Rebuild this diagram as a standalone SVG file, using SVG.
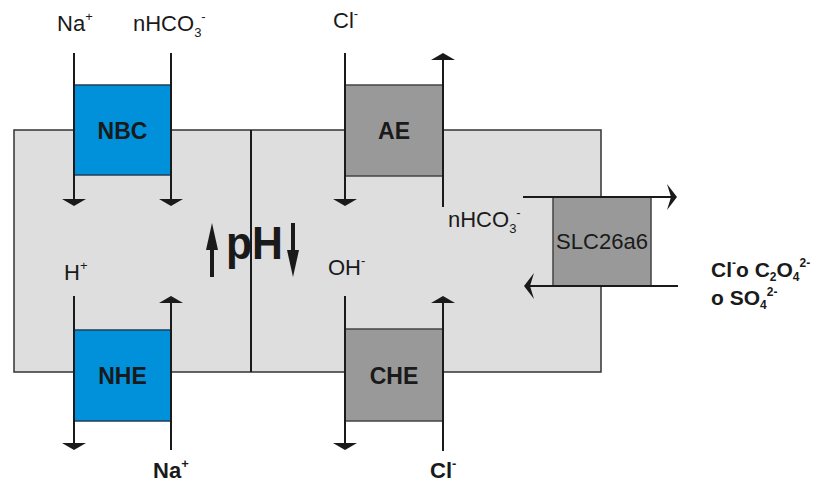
<svg xmlns="http://www.w3.org/2000/svg" width="822" height="484" viewBox="0 0 822 484">
<style>
text{font-family:"Liberation Sans",Arial,sans-serif;fill:#1a1a1a}
.lbl{font-size:22px}
.b{font-weight:bold}
.sup{font-size:13px}
.rs{font-size:12px}
.flux{stroke:#1a1a1a;stroke-width:2;fill:none}
.blue{fill:#0091da;stroke:#1f3f5a;stroke-width:1.5}
.grey{fill:#999999;stroke:#444;stroke-width:1.5}
</style>
<defs>
<marker id="ah" markerUnits="userSpaceOnUse" markerWidth="30" markerHeight="30" viewBox="-15 -15 30 30" refX="-7" refY="0" orient="auto">
<path d="M0,0 L-7,-12 L-7,12 Z" fill="#1a1a1a"/>
</marker>
<marker id="ahn" markerUnits="userSpaceOnUse" markerWidth="30" markerHeight="30" viewBox="-15 -15 30 30" refX="-6" refY="0" orient="auto">
<path d="M0,0 L-10,-13 L-6,0 L-10,13 Z" fill="#1a1a1a"/>
</marker>
</defs>
<g id="cell">
<rect x="14" y="130" width="587" height="242" fill="#dedede" stroke="#333" stroke-width="1.5"/>
<line x1="251" y1="130" x2="251" y2="372" stroke="#1a1a1a" stroke-width="2"/>
</g>
<g id="NBC"><rect class="blue" x="74" y="85" width="97" height="90"/><text class="b" x="122.5" y="139" font-size="23" text-anchor="middle">NBC</text></g>
<g id="AE"><rect class="grey" x="345" y="85" width="98" height="91"/><text class="b" x="394" y="139" font-size="23" text-anchor="middle">AE</text></g>
<g id="NHE"><rect class="blue" x="74" y="330" width="97" height="91"/><text class="b" x="122.5" y="384" font-size="23" text-anchor="middle">NHE</text></g>
<g id="CHE"><rect class="grey" x="345" y="329" width="98" height="92"/><text class="b" x="394" y="384" font-size="23" text-anchor="middle">CHE</text></g>
<g id="SLC26a6"><rect class="grey" x="553" y="197" width="98" height="89"/><text x="602" y="249" font-size="22" text-anchor="middle" textLength="92" lengthAdjust="spacingAndGlyphs">SLC26a6</text></g>
<g id="connectors">
<line class="flux" x1="74" y1="53" x2="74" y2="199" marker-end="url(#ah)"/>
<line class="flux" x1="171" y1="53" x2="171" y2="199" marker-end="url(#ah)"/>
<line class="flux" x1="345" y1="53" x2="345" y2="199" marker-end="url(#ah)"/>
<line class="flux" x1="443" y1="207" x2="443" y2="60" marker-end="url(#ah)"/>
<line class="flux" x1="74" y1="296" x2="74" y2="443" marker-end="url(#ah)"/>
<line class="flux" x1="171" y1="450" x2="171" y2="303" marker-end="url(#ah)"/>
<line class="flux" x1="345" y1="296" x2="345" y2="443" marker-end="url(#ah)"/>
<line class="flux" x1="443" y1="451" x2="443" y2="303" marker-end="url(#ah)"/>
<line class="flux" x1="523" y1="197" x2="671" y2="197" marker-end="url(#ahn)"/>
<line class="flux" x1="678" y1="286" x2="530" y2="286" marker-end="url(#ahn)"/>
</g>
<g id="pH">
<rect x="210" y="246" width="4" height="31" fill="#1a1a1a"/>
<path d="M212,223 L206,250 L218,250 Z" fill="#1a1a1a"/>
<rect x="291" y="223" width="4" height="31" fill="#1a1a1a"/>
<path d="M293,277 L287,250 L299,250 Z" fill="#1a1a1a"/>
<text class="b" x="226" y="259" font-size="46" textLength="57" lengthAdjust="spacingAndGlyphs">pH</text>
</g>
<g id="labels">
<text class="lbl" x="57" y="31">Na<tspan class="sup" dy="-10">+</tspan></text>
<text class="lbl" x="133" y="31">nHCO<tspan class="sup" dy="6">3</tspan><tspan class="sup" dy="-16">-</tspan></text>
<text class="lbl" x="333" y="28">Cl<tspan class="sup" dy="-10">-</tspan></text>
<text class="lbl" x="448" y="227">nHCO<tspan class="sup" dy="6">3</tspan><tspan class="sup" dy="-16">-</tspan></text>
<text class="lbl" x="64" y="280">H<tspan class="sup" dy="-10">+</tspan></text>
<text class="lbl" x="328" y="275">OH<tspan class="sup" dy="-10">-</tspan></text>
<text class="lbl b" x="153" y="478">Na<tspan class="sup" dy="-10">+</tspan></text>
<text class="lbl b" x="430" y="478">Cl<tspan class="sup" dy="-10">-</tspan></text>
<text class="b" font-size="21" x="711" y="277">Cl<tspan class="rs" dy="-10">-</tspan><tspan dy="10">o C</tspan><tspan class="rs" dy="4">2</tspan><tspan dy="-4">O</tspan><tspan class="rs" dy="4">4</tspan><tspan class="rs" dy="-14">2-</tspan></text>
<text class="b" font-size="21" x="711" y="305">o SO<tspan class="rs" dy="4">4</tspan><tspan class="rs" dy="-13">2-</tspan></text>
</g>
</svg>
